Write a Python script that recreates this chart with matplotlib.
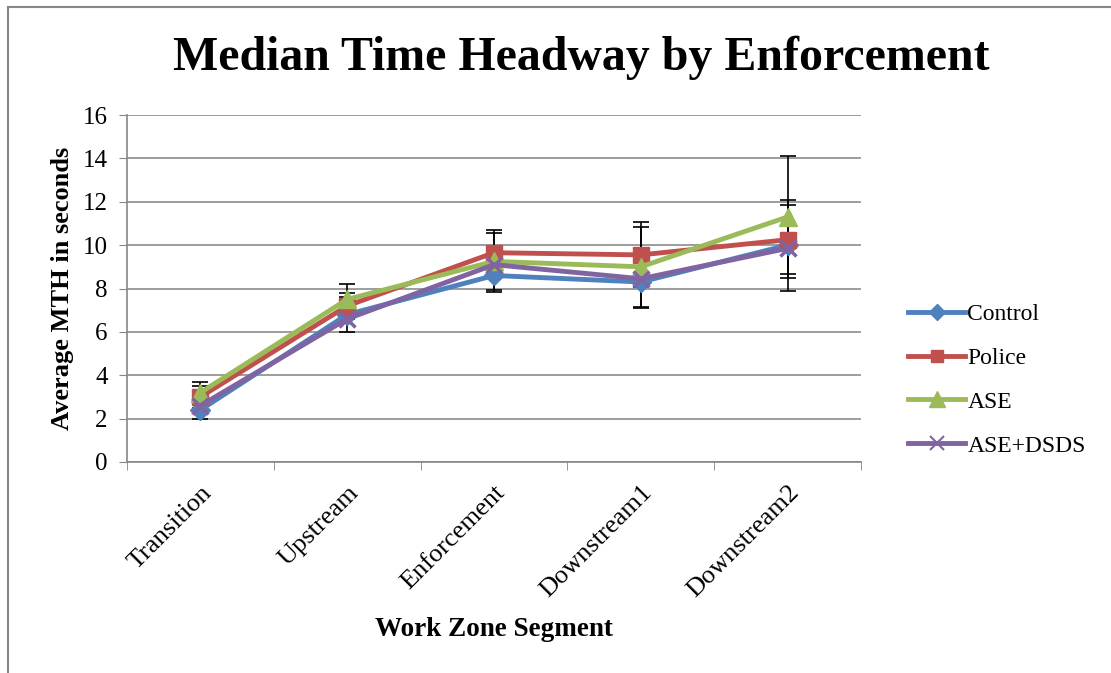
import matplotlib
matplotlib.use("Agg")
import matplotlib.pyplot as plt
import numpy as np
from matplotlib.lines import Line2D

plt.rcParams['font.family'] = ['Liberation Serif', 'DejaVu Serif']

segments = ["Transition", "Upstream", "Enforcement", "Downstream1", "Downstream2"]

control = [2.4, 6.8, 8.6, 8.3, 10.0]
police = [3.0, 7.2, 9.65, 9.55, 10.25]
ase = [3.2, 7.5, 9.25, 9.0, 11.3]
ase_dsds = [2.6, 6.6, 9.1, 8.45, 9.85]

control_err = [0.4, 0.8, 0.75, 1.2, 2.1]
police_err = [0.5, 0.6, 1.05, 1.5, 1.6]
ase_err = [0.5, 0.7, 1.3, 1.85, 2.8]

series = [
    ("Control", control, control_err, "#4F81BD", "D", 10),
    ("Police", police, police_err, "#C0504D", "s", 11),
    ("ASE", ase, ase_err, "#9BBB59", "^", 13),
    ("ASE+DSDS", ase_dsds, None, "#8064A2", "x", 12),
]

fig = plt.figure(figsize=(11.11, 6.73), dpi=100)
ax = fig.add_axes([127/1111, 1 - 462/673, (861 - 127)/1111, (462 - 115)/673])

x = np.arange(len(segments))
handles = []
for name, vals, err, col, mk, ms in series:
    if err is not None:
        ax.errorbar(x, vals, yerr=err, fmt="none", ecolor="black", elinewidth=1.2,
                    capsize=6, capthick=1.2, zorder=2)
for name, vals, err, col, mk, ms in series:
    mew = 2.5 if mk == "x" else 1
    ax.plot(x, vals, color=col, lw=3.5, marker=mk, ms=ms, mew=mew, zorder=3)
    handles.append(Line2D([], [], color=col, lw=3.5, marker=mk,
                          ms=ms * 0.85, mew=1.5 if mk == "x" else 1, label=name))

ax.set_xlim(-0.5, len(segments) - 0.5)
ax.set_ylim(0, 16)
ax.set_yticks(np.arange(0, 17, 2))
ax.set_xticks(x)
ax.set_xticklabels(segments, rotation=45, ha="right", rotation_mode="anchor")
ax.set_xticks(np.arange(-0.5, len(segments), 1), minor=True)
ax.tick_params(axis="x", which="major", length=0, labelsize=19, pad=14)
ax.tick_params(axis="x", which="minor", length=6, color="#868686")
ax.tick_params(axis="y", length=6, color="#868686", labelsize=18, pad=8)
ax.yaxis.grid(True, color="#8c8c8c", lw=1.2)
ax.set_axisbelow(True)
for s in ["top", "right"]:
    ax.spines[s].set_visible(False)
for s in ["left", "bottom"]:
    ax.spines[s].set_color("#868686")
    ax.spines[s].set_linewidth(1.2)

ax.set_xlabel("Work Zone Segment", fontsize=19.5, fontweight="bold", labelpad=11)
ax.set_ylabel("Average MTH in seconds", fontsize=19, fontweight="bold", labelpad=6)
fig.text(0.523, 1 - 58/673, "Median Time Headway by Enforcement", fontsize=34.5,
         fontweight="bold", ha="center", va="center")

fig.legend(handles=handles, loc="center left", bbox_to_anchor=(887/1111, 1 - 380/673),
           frameon=False, fontsize=17, handlelength=2.4, handletextpad=0.1,
           labelspacing=0.95)

# chart frame
fig.add_artist(Line2D([8/1111, 8/1111], [0, 1 - 7/673], color="#868686", lw=1.5))
fig.add_artist(Line2D([8/1111, 1], [1 - 7/673, 1 - 7/673], color="#868686", lw=1.5))

fig.savefig("out.png", dpi=100)
